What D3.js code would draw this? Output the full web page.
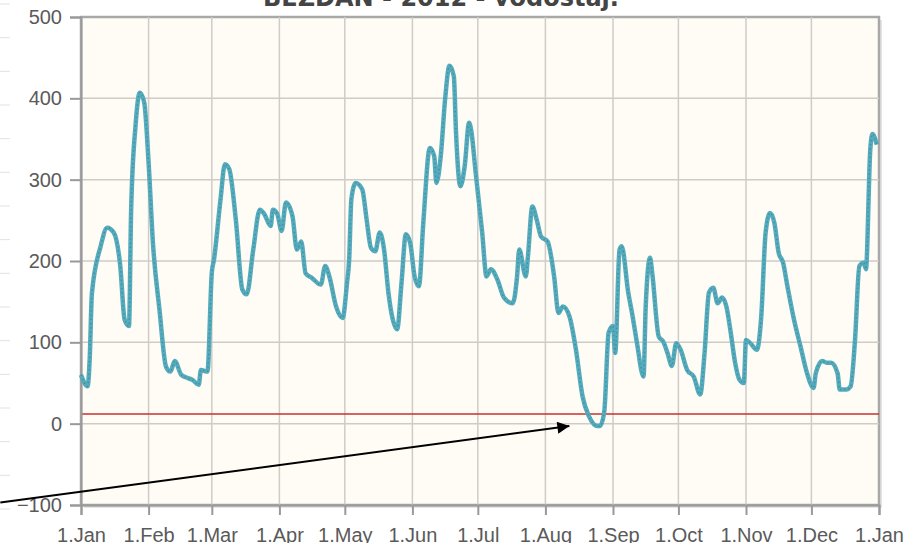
<!DOCTYPE html>
<html>
<head>
<meta charset="utf-8">
<script src="https://cdn.jsdelivr.net/npm/d3@7"></script>
<style>
  body { margin: 0; background: #fff; }
  svg { display: block; font-family: "DejaVu Sans", Verdana, sans-serif; }
  .grid line { stroke: #cfcbc6; stroke-width: 1.5; }
  .axis text { fill: #5a5a5a; font-size: 20px; }
  .axis path, .axis line { stroke: #999; stroke-width: 2; }
</style>
</head>
<body>
<div id="chart"></div>
<script>
const title = "BEZDAN - 2012 - vodostaj.";

const dates = [
  "2012-01-01","2012-01-04","2012-01-05","2012-01-06","2012-01-10","2012-01-13","2012-01-16","2012-01-19",
  "2012-01-21","2012-01-23","2012-01-24","2012-01-26","2012-01-28","2012-01-30","2012-02-01","2012-02-03",
  "2012-02-06","2012-02-09","2012-02-11","2012-02-13","2012-02-16","2012-02-19","2012-02-21","2012-02-24",
  "2012-02-25","2012-02-28","2012-03-01","2012-03-02","2012-03-05","2012-03-07","2012-03-09","2012-03-12",
  "2012-03-15","2012-03-17","2012-03-20","2012-03-23","2012-03-25","2012-03-28","2012-03-29","2012-03-31",
  "2012-04-02","2012-04-04","2012-04-07","2012-04-09","2012-04-11","2012-04-13","2012-04-16","2012-04-20",
  "2012-04-22","2012-04-24","2012-04-27","2012-04-30","2012-05-02","2012-05-03","2012-05-04","2012-05-06",
  "2012-05-09","2012-05-11","2012-05-13","2012-05-15","2012-05-17","2012-05-19","2012-05-21","2012-05-23",
  "2012-05-25","2012-05-27","2012-05-29","2012-05-31","2012-06-02","2012-06-04","2012-06-06","2012-06-09",
  "2012-06-11","2012-06-12","2012-06-14","2012-06-16","2012-06-18","2012-06-20","2012-06-21","2012-06-23",
  "2012-06-25","2012-06-27","2012-06-28","2012-06-30","2012-07-03","2012-07-05","2012-07-07","2012-07-10",
  "2012-07-13","2012-07-17","2012-07-19","2012-07-20","2012-07-23","2012-07-24","2012-07-26","2012-07-28",
  "2012-07-30","2012-08-02","2012-08-05","2012-08-07","2012-08-09","2012-08-12","2012-08-15","2012-08-18",
  "2012-08-21","2012-08-25","2012-08-26","2012-08-28","2012-08-30","2012-09-01","2012-09-02","2012-09-04",
  "2012-09-05","2012-09-08","2012-09-10","2012-09-12","2012-09-15","2012-09-16","2012-09-18","2012-09-19",
  "2012-09-22","2012-09-24","2012-09-26","2012-09-28","2012-09-30","2012-10-02","2012-10-05","2012-10-08",
  "2012-10-11","2012-10-13","2012-10-15","2012-10-17","2012-10-19","2012-10-21","2012-10-23","2012-10-25",
  "2012-10-27","2012-10-29","2012-10-31","2012-11-01","2012-11-03","2012-11-06","2012-11-08","2012-11-10",
  "2012-11-12","2012-11-14","2012-11-16","2012-11-18","2012-11-20","2012-11-23","2012-11-26","2012-11-29",
  "2012-12-02","2012-12-03","2012-12-06","2012-12-08","2012-12-10","2012-12-13","2012-12-14","2012-12-17",
  "2012-12-19","2012-12-21","2012-12-23","2012-12-25","2012-12-26","2012-12-28","2012-12-29","2012-12-31"
];

const levels = [
  60, 46, 80, 160, 218, 241, 235, 194,
  128, 120, 263, 366, 407, 395, 321, 222,
  140, 70, 64, 77, 60, 56, 54, 48,
  66, 64, 186, 202, 276, 319, 313, 251,
  165, 159, 214, 263, 258, 243, 263, 258,
  237, 272, 255, 214, 224, 185, 179, 171,
  194, 180, 144, 130, 173, 202, 276, 296,
  288, 251, 216, 212, 235, 214, 161, 128,
  116, 173, 233, 222, 181, 169, 247, 339,
  329, 296, 329, 399, 440, 427, 358, 292,
  317, 370, 360, 309, 235, 181, 190, 177,
  155, 148, 181, 214, 181, 206, 267, 251,
  230, 224, 181, 136, 144, 132, 91, 34,
  9, -3, -3, 15, 112, 120, 87, 214,
  218, 161, 132, 99, 58, 144, 204, 185,
  107, 101, 87, 71, 99, 91, 66, 58,
  36, 87, 161, 167, 148, 155, 144, 112,
  75, 54, 50, 103, 99, 91, 132, 235,
  259, 247, 210, 198, 169, 128, 95, 62,
  44, 62, 77, 75, 75, 62, 42, 42,
  46, 103, 194, 198, 190, 337, 356, 343
];

const yTicks = [-100, 0, 100, 200, 300, 400, 500];
const monthTicks = ["2012-01-01","2012-02-01","2012-03-01","2012-04-01","2012-05-01","2012-06-01",
  "2012-07-01","2012-08-01","2012-09-01","2012-10-01","2012-11-01","2012-12-01","2013-01-01"];
const limitLevel = 12;
// arrow annotation, in data units: from off-chart left to just below the August low
const arrowFrom = { date: "2011-11-25", value: -97 };
const arrowTo = { date: "2012-08-12", value: -3 };

const width = 916, height = 543;
const margin = { top: 17, right: 37, bottom: 38, left: 81 };
const parse = d3.utcParse("%Y-%m-%d");

const data = dates.map((d, i) => ({ date: parse(d), value: levels[i] }));

const svg = d3.select("#chart").append("svg")
  .attr("width", width)
  .attr("height", height);

const x = d3.scaleUtc()
  .domain([parse(monthTicks[0]), parse(monthTicks[monthTicks.length - 1])])
  .range([margin.left, width - margin.right]);

const y = d3.scaleLinear()
  .domain([-100, 500])
  .range([height - margin.bottom, margin.top]);

// faint ticks of a neighbouring chart on the far left edge
const edge = d3.scaleLinear().domain([0, 15]).range([4, 509]);
svg.append("g").selectAll("line")
  .data(d3.range(16))
  .join("line")
  .attr("x1", 0).attr("x2", 10)
  .attr("y1", d => edge(d)).attr("y2", d => edge(d))
  .attr("stroke", "#e2e2e2");

// title, cut off at the top
svg.append("text")
  .attr("x", 441)
  .attr("y", 6)
  .attr("text-anchor", "middle")
  .style("font-size", "24px")
  .style("font-weight", "bold")
  .style("fill", "#444")
  .text(title);

// plot background + shadow
svg.append("rect")
  .attr("x", x.range()[0] + 3)
  .attr("y", y.range()[1] + 3)
  .attr("width", x.range()[1] - x.range()[0])
  .attr("height", y.range()[0] - y.range()[1])
  .attr("fill", "#e4e4e4");

svg.append("rect")
  .attr("x", x.range()[0])
  .attr("y", y.range()[1])
  .attr("width", x.range()[1] - x.range()[0])
  .attr("height", y.range()[0] - y.range()[1])
  .attr("fill", "#fffcf6")
  .attr("stroke", "#a8a8a8")
  .attr("stroke-width", 2.5);

// grid
svg.append("g").attr("class", "grid")
  .selectAll("line.v")
  .data(monthTicks.slice(1, -1).map(parse))
  .join("line")
  .attr("x1", d => x(d)).attr("x2", d => x(d))
  .attr("y1", y.range()[1]).attr("y2", y.range()[0]);

svg.append("g").attr("class", "grid")
  .selectAll("line.h")
  .data(yTicks.slice(1, -1))
  .join("line")
  .attr("x1", x.range()[0]).attr("x2", x.range()[1])
  .attr("y1", d => y(d)).attr("y2", d => y(d));

// limit line
svg.append("line")
  .attr("x1", x.range()[0]).attr("x2", x.range()[1])
  .attr("y1", y(limitLevel)).attr("y2", y(limitLevel))
  .attr("stroke", "#c8302c")
  .attr("stroke-width", 1.5);

// axes
const yAxis = svg.append("g")
  .attr("class", "axis")
  .attr("transform", `translate(${margin.left},0)`)
  .call(d3.axisLeft(y).tickValues(yTicks).tickSize(11).tickPadding(8));
yAxis.select(".domain").attr("stroke", "#999").attr("stroke-width", 3.5);

const xAxis = svg.append("g")
  .attr("class", "axis")
  .attr("transform", `translate(0,${height - margin.bottom})`)
  .call(d3.axisBottom(x)
    .tickValues(monthTicks.map(parse))
    .tickFormat(d3.utcFormat("1.%b"))
    .tickSize(10)
    .tickPadding(8));
xAxis.select(".domain").attr("stroke", "#999").attr("stroke-width", 3.5);
xAxis.selectAll("text").attr("dy", "0.95em");

// series
const line = d3.line()
  .x(d => x(d.date))
  .y(d => y(d.value))
  .curve(d3.curveMonotoneX);

svg.append("path")
  .datum(data)
  .attr("fill", "none")
  .attr("stroke", "#55abbc")
  .attr("stroke-width", 4.5)
  .attr("stroke-linejoin", "round")
  .attr("d", line);

svg.append("path")
  .datum(data)
  .attr("fill", "none")
  .attr("stroke", "#3b8d9c")
  .attr("stroke-width", 1.4)
  .attr("stroke-dasharray", "1.2,3")
  .attr("d", line);

// arrow annotation
svg.append("defs").append("marker")
  .attr("id", "head")
  .attr("viewBox", "0 0 10 10")
  .attr("refX", 10).attr("refY", 5)
  .attr("markerWidth", 8).attr("markerHeight", 6)
  .attr("markerUnits", "strokeWidth")
  .attr("orient", "auto")
  .append("path")
  .attr("d", "M0,0L10,5L0,10Z")
  .attr("fill", "#000");

svg.append("line")
  .attr("x1", x(parse(arrowFrom.date))).attr("y1", y(arrowFrom.value))
  .attr("x2", x(parse(arrowTo.date))).attr("y2", y(arrowTo.value))
  .attr("stroke", "#000")
  .attr("stroke-width", 2)
  .attr("marker-end", "url(#head)");
</script>
</body>
</html>
